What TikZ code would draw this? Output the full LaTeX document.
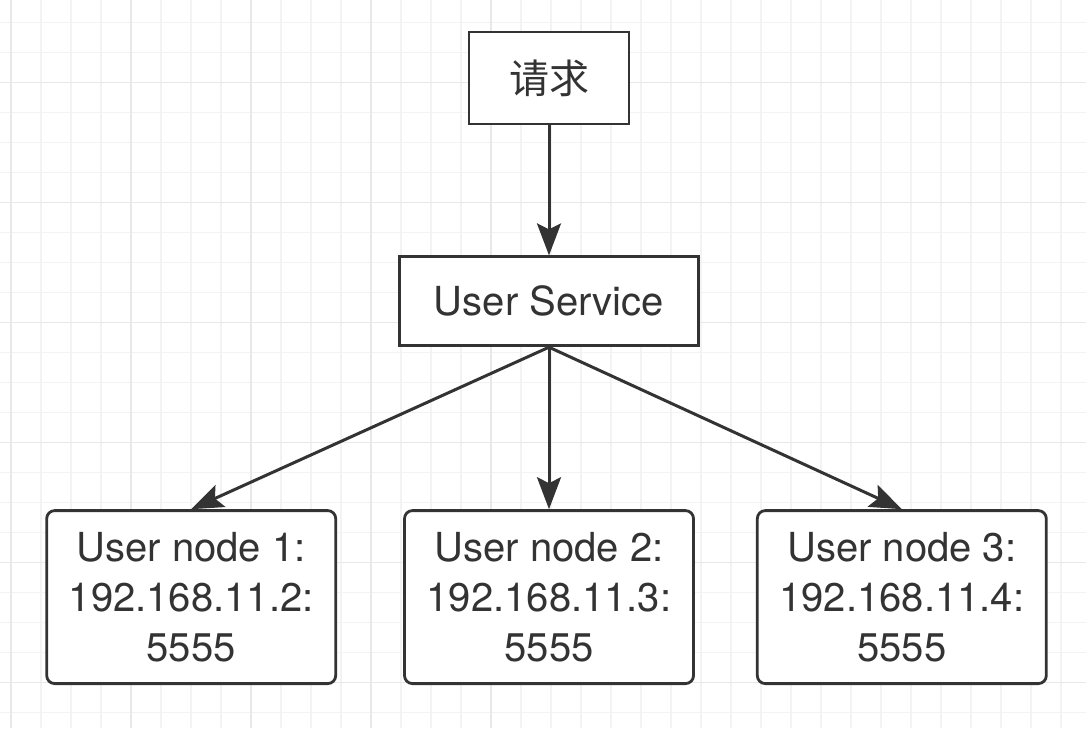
\documentclass[tikz,border=0pt]{standalone}
\usepackage{fontspec}
\setmainfont{TeX Gyre Heros}
\newfontfamily\cjk{Noto Sans CJK SC}
\usepackage{tikz}
\usetikzlibrary{arrows.meta,positioning}
\definecolor{inkgray}{RGB}{51,51,51}
\definecolor{gridminor}{RGB}{243,243,243}
\definecolor{gridmajor}{RGB}{232,232,232}

\begin{document}
\begin{tikzpicture}[
  font=\fontsize{20pt}{25pt}\selectfont,
  box/.style={draw=inkgray, line width=1.4pt, fill=white, text=inkgray,
              align=center, inner sep=0pt},
  nodebox/.style={box, rounded corners=4pt, minimum width=144.5pt, minimum height=86.5pt},
  arr/.style={-{Stealth[length=16pt, width=12pt, inset=3pt]}, draw=inkgray, line width=1.5pt}
]
\useasboundingbox (0,0) rectangle (543pt,-364pt);
% background grid
\foreach \i in {0,...,35} {
  \draw[gridminor, line width=0.6pt] (5.5pt+15*\i pt,0) -- (5.5pt+15*\i pt,-364pt);
}
\foreach \j in {0,...,24} {
  \draw[gridminor, line width=0.6pt] (0,-11.35pt-15*\j pt) -- (543pt,-11.35pt-15*\j pt);
}
\foreach \i in {0,...,4} {
  \draw[gridmajor, line width=0.7pt] (5.5pt+60*\i pt,0) -- (5.5pt+60*\i pt,-364pt);
}
\foreach \j in {0,...,5} {
  \draw[gridmajor, line width=0.7pt] (0,-41.35pt-60*\j pt) -- (543pt,-41.35pt-60*\j pt);
}
% nodes
\node[box, minimum width=80pt, minimum height=46pt] (req) at (274.5pt,-39pt) {\cjk 请求};
\node[box, minimum width=149.5pt, minimum height=44.5pt, below=65pt of req] (svc) {User Service};
\node[nodebox, below=81pt of svc] (un2) {User node 2:\\192.168.11.3:\\5555};
\node[nodebox, left=33pt of un2] (un1) {User node 1:\\192.168.11.2:\\5555};
\node[nodebox, right=30.5pt of un2] (un3) {User node 3:\\192.168.11.4:\\5555};
% connectors
\draw[arr] (req) -- (svc);
\draw[arr] (svc.south) -- (un1.north);
\draw[arr] (svc.south) -- (un2.north);
\draw[arr] (svc.south) -- (un3.north);
\end{tikzpicture}
\end{document}
